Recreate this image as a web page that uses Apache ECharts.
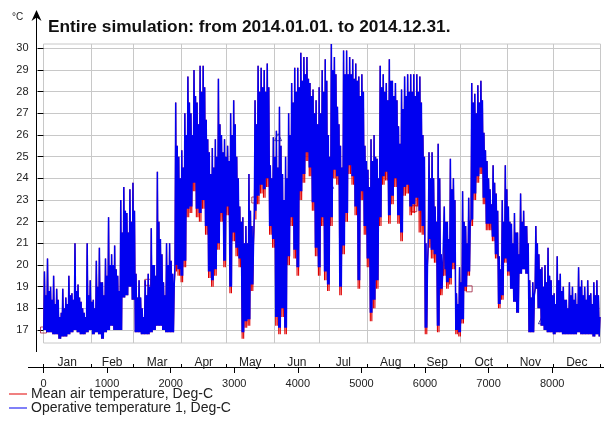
<!DOCTYPE html>
<html><head><meta charset="utf-8">
<script src="https://cdn.jsdelivr.net/npm/echarts@6/dist/echarts.min.js"></script>
<style>html,body{margin:0;padding:0;background:#fff}#c{width:604px;height:428px}</style>
</head><body><div id="c"></div>
<script>
// ---- data (2-day periods) ----
const titleText = 'Entire simulation: from 2014.01.01. to 2014.12.31.';
const unitText = '°C';
const monthNames = ['Jan','Feb','Mar','Apr','May','Jun','Jul','Aug','Sep','Oct','Nov','Dec'];
const monthEdges = [0,744,1416,2160,2880,3624,4344,5088,5832,6552,7296,8016,8760];
const hourTicks = [0,1000,2000,3000,4000,5000,6000,7000,8000];
const tempTicks = [17,18,19,20,21,22,23,24,25,26,27,28,29,30];
const seriesNames = ['Mean air temperature, Deg-C','Operative temperature 1, Deg-C'];
const periodHours = 48;

// Operative temperature: peak (spike) high of each 2-day period
const opHi = [
19.7,20.3,19.0,19.5,18.9,17.6,18.9,18.5,19.5,18.7,21.0,19.1,18.3,17.8,21.0,19.3,18.4,20.2,20.8,19.2,20.3,22.2,20.5,20.9,19.5,23.0,23.6,22.4,23.5,23.8,
19.6,19.3,18.0,19.3,19.6,21.7,20.0,24.3,21.2,19.2,21.0,21.0,19.6,27.5,25.0,25.3,27.0,28.7,27.0,29.0,27.5,29.2,29.2,26.7,25.2,25.4,25.8,28.6,26.0,25.8,25.5,
27.0,27.6,25.0,22.7,22.2,21.8,24.2,21.8,27.6,29.2,29.1,29.0,29.3,24.6,25.9,26.2,27.3,24.2,25.0,27.0,28.4,29.1,29.1,29.8,29.6,29.6,28.4,28.1,27.6,28.2,29.0,
29.5,26.0,30.2,29.6,27.3,25.5,29.9,29.9,29.6,29.5,29.3,28.7,28.8,25.5,24.4,25.8,26.0,24.9,29.2,28.8,28.4,29.5,28.5,28.4,26.4,28.1,28.7,28.8,28.8,28.8,28.8,
28.7,26.0,21.0,25.2,25.2,22.7,25.6,20.5,22.7,22.0,24.9,24.0,18.7,19.9,23.4,21.8,23.1,28.4,27.9,28.3,28.5,26.1,24.8,23.5,24.6,23.3,20.4,23.0,24.6,22.7,
21.9,22.4,21.5,23.3,22.5,21.8,19.3,19.2,21.8,20.5,19.9,20.0,20.8,19.3,18.7,20.4,19.6,19.0,18.4,19.2,19.0,18.7,19.9,19.3,19.0,19.3,18.7,19.2,19.3,17.6
];
// Operative temperature: typical (band top) high of the other day of each period
const opBand = [
18.6,18.8,18.4,18.2,18.4,17.8,18.0,18.2,18.6,18.4,18.8,18.5,18.0,17.6,18.6,18.3,18.0,19.0,19.2,18.6,19.5,20.0,20.0,19.8,18.8,21.5,22.5,21.5,22.0,22.5,
18.5,18.5,17.6,18.6,19.0,20.0,19.5,22.0,20.5,18.6,20.0,20.2,19.0,25.5,24.0,24.5,26.0,27.5,26.0,27.8,26.5,28.0,28.2,25.8,24.2,24.5,25.0,26.5,25.2,25.0,24.8,
26.0,26.5,24.0,22.0,21.0,21.0,22.5,21.0,26.5,28.0,28.2,28.0,28.2,24.0,25.0,24.5,25.5,23.0,24.0,26.0,27.5,28.0,28.2,28.5,28.8,28.6,27.8,27.0,26.5,27.0,28.0,
28.5,25.0,29.0,28.8,26.5,24.5,28.8,28.8,28.8,28.6,28.5,27.8,28.0,24.8,23.6,24.8,25.0,24.0,28.2,28.0,27.6,28.5,27.8,27.6,25.6,27.2,27.8,28.0,28.0,27.8,28.0,
27.5,25.0,20.0,24.0,24.0,22.0,24.0,19.8,22.0,21.2,23.5,23.0,18.2,19.2,22.0,21.0,22.0,27.5,27.0,27.5,27.6,25.3,24.0,22.8,23.8,22.5,19.8,22.0,23.5,22.0,
21.0,21.5,20.5,22.0,21.8,21.0,18.5,18.6,21.0,19.8,19.0,19.2,19.5,18.6,18.2,19.3,18.8,18.4,18.0,18.6,18.4,18.2,19.0,18.6,18.4,18.6,18.2,18.6,18.6,17.4
];
// Operative temperature: lows per 2-day period
const opLo = [
17.0,16.9,16.9,16.8,16.8,16.6,16.7,16.7,16.8,16.9,17.0,16.9,16.8,16.8,16.9,17.0,16.8,16.9,16.8,16.6,16.9,17.0,17.2,17.0,17.0,17.0,18.5,18.6,19.0,18.4,
16.9,16.9,16.8,16.8,16.8,16.9,17.0,17.2,17.2,17.0,16.9,16.9,16.9,20.0,19.8,19.5,20.2,22.6,22.7,23.8,22.6,22.4,23.0,21.8,19.7,19.3,19.8,21.0,22.4,20.2,22.7,
19.0,21.5,20.8,20.3,16.9,17.4,17.5,19.1,22.5,23.2,23.7,23.5,24.0,21.8,21.2,17.6,17.1,18.0,17.1,20.4,22.2,20.7,19.9,23.4,24.2,25.2,24.5,22.9,20.8,19.9,22.2,
19.7,19.1,22.2,24.4,24.1,19.0,20.9,22.4,24.6,24.1,22.7,19.3,23.4,21.8,20.3,17.8,18.4,19.3,22.2,24.1,24.3,22.3,23.2,24.0,22.3,21.5,23.6,23.7,22.7,22.8,23.1,
22.5,21.8,17.1,21.2,20.7,20.5,17.2,18.9,19.8,19.2,19.4,20.1,17.0,16.9,17.5,19.0,19.7,22.1,23.3,24.1,24.5,23.1,21.9,21.9,21.3,20.5,18.2,18.6,20.3,19.7,
18.9,18.3,17.8,19.6,19.8,19.6,16.9,16.9,18.9,18.0,17.2,17.0,16.9,16.9,16.8,16.9,16.9,16.8,16.8,16.8,16.8,16.8,16.9,16.8,16.8,16.8,16.8,16.7,16.8,16.7
];
// Mean air temperature: lows per 2-day period (its highs are hidden under the operative line)
const airLo = [
17.0,16.9,16.9,16.8,16.8,16.6,16.7,16.7,16.8,16.9,17.0,16.9,16.8,16.8,16.9,17.0,16.8,16.9,16.8,16.6,16.9,17.0,17.2,17.0,17.0,17.0,18.5,18.6,19.0,18.4,
16.9,16.9,16.8,16.8,16.8,16.9,17.0,17.2,17.2,17.0,16.9,16.9,16.9,19.7,19.5,19.2,19.9,22.2,22.4,23.4,22.2,22.0,22.6,21.4,19.4,19.0,19.5,20.7,22.0,19.9,22.3,
18.7,21.1,20.4,19.9,16.6,17.1,17.2,18.8,22.1,22.8,23.3,23.1,23.6,21.4,20.8,17.2,16.8,17.6,16.8,20.0,21.8,20.3,19.5,23.0,23.8,24.8,24.1,22.5,20.4,19.5,21.8,
19.3,18.8,21.8,24.0,23.7,18.6,20.5,22.0,24.2,23.7,22.3,18.9,23.0,21.4,19.9,17.4,18.0,18.9,21.8,23.7,23.9,21.9,22.8,23.6,21.9,21.1,23.2,23.3,22.3,22.4,22.7,
21.5,21.4,16.8,20.8,20.3,20.1,16.9,18.6,19.5,18.9,19.1,19.8,16.8,16.7,17.3,18.8,19.5,21.8,23.0,23.8,24.2,22.8,21.6,21.6,21.1,20.3,18.0,18.4,20.1,19.5,
18.9,18.3,17.8,19.6,19.8,19.6,16.9,16.9,18.9,18.0,17.2,17.0,16.9,16.9,16.8,16.9,16.9,16.8,16.8,16.8,16.8,16.8,16.9,16.8,16.8,16.8,16.8,16.7,16.8,16.7
];
// series markers [hour, value]
const airMarkers = [[0,17.0],[1640,19.2],[3323,23.0],[5824,22.6],[6694,18.9]];
const opMarkers = [[3690,25.9],[4507,23.7],[7838,17.45]];

// ---- build: each period = day 1 (low, peak high) + day 2 (low, band high) ----
function daily(lo, peak, band) {
  const d = [];
  for (let k = 0; k < lo.length; k++) {
    const t = k * periodHours;
    d.push([t + 4, lo[k]]);
    d.push([t + 15, peak[k]]);
    d.push([t + 28, lo[k]]);
    d.push([t + 39, band[k]]);
  }
  return d.filter(p => p[0] <= 8760);
}
const monthMid = monthNames.map((m, i) => (monthEdges[i] + monthEdges[i + 1]) / 2);
const FONT = "Arial, 'Liberation Sans', sans-serif";
const RED = '#e00000', BLUE = '#0000f0';

const chart = echarts.init(document.getElementById('c'), null, {renderer: 'canvas'});
chart.setOption({
  animation: false,
  backgroundColor: '#fff',
  title: {text: titleText, left: 48, top: 19, padding: 0,
    textStyle: {fontSize: 17.3, fontWeight: 'bold', color: '#111', fontFamily: FONT}},
  legend: {
    data: seriesNames, orient: 'vertical', left: 9, top: 387, itemGap: 0,
    itemWidth: 18, itemHeight: 1, icon: 'rect', padding: 0,
    textStyle: {fontSize: 14, color: '#222', fontFamily: FONT, lineHeight: 14, padding: [0,0,0,-1]}
  },
  grid: {left: 43.5, right: 3.5, top: 44, bottom: 85, show: true,
    borderColor: '#c8c8c8', borderWidth: 1, backgroundColor: 'transparent'},
  xAxis: [
    {type: 'value', min: 0, max: 8760, position: 'bottom', offset: 25,
      axisLine: {show: false},
      axisTick: {show: true, length: 5, customValues: hourTicks, lineStyle: {color: '#000'}},
      axisLabel: {customValues: hourTicks, fontSize: 11, color: '#222', margin: 10, fontFamily: FONT,
        formatter: v => hourTicks.indexOf(v) >= 0 ? String(v) : ''},
      splitLine: {show: false}},
    {type: 'value', min: 0, max: 8760, position: 'bottom', offset: 25,
      axisLine: {show: false},
      axisTick: {show: true, inside: true, length: 4, customValues: monthEdges, lineStyle: {color: '#000'}},
      axisLabel: {inside: true, customValues: monthMid, fontSize: 12, color: '#222', margin: -1, fontFamily: FONT,
        formatter: v => { const i = monthMid.indexOf(v); return i >= 0 ? monthNames[i] : ''; }},
      splitLine: {show: true, lineStyle: {color: '#c8c8c8', width: 1}}}
  ],
  yAxis: {type: 'value', min: 16.4, max: 30.2, offset: 7,
    axisLine: {show: false},
    axisTick: {show: true, length: 6, customValues: tempTicks, lineStyle: {color: '#000'}},
    axisLabel: {customValues: tempTicks, fontSize: 11, color: '#222', margin: 8, fontFamily: FONT,
      formatter: v => tempTicks.indexOf(v) >= 0 ? String(v) : ''},
    splitLine: {show: true, lineStyle: {color: '#c8c8c8', width: 1}}},
  series: [
    {name: seriesNames[0], type: 'line', xAxisIndex: 0, data: daily(airLo, opHi, opBand), showSymbol: false,
      color: RED, lineStyle: {width: 1.1, color: RED}},
    {name: seriesNames[1], type: 'line', xAxisIndex: 0, data: daily(opLo, opHi, opBand), showSymbol: false,
      color: BLUE, lineStyle: {width: 1.5, color: BLUE}},
    {name: 'airMk', type: 'scatter', xAxisIndex: 0, data: airMarkers, symbol: 'rect', symbolSize: 6,
      itemStyle: {color: 'rgba(0,0,0,0)', borderColor: '#a02040', borderWidth: 1}},
    {name: 'opMk', type: 'scatter', xAxisIndex: 0, data: opMarkers, symbol: 'triangle', symbolSize: 7,
      itemStyle: {color: 'rgba(0,0,0,0)', borderColor: '#202090', borderWidth: 1}}
  ],
  graphic: [
    {type: 'line', shape: {x1: 36.5, y1: 17, x2: 36.5, y2: 352}, style: {stroke: '#000', lineWidth: 1}},
    {type: 'polygon', shape: {points: [[36.5, 10], [31.5, 21], [36.5, 17.5], [41.5, 21]]}, style: {fill: '#000'}},
    {type: 'line', shape: {x1: 28, y1: 367.5, x2: 604, y2: 367.5}, style: {stroke: '#000', lineWidth: 1}},
    {type: 'text', left: 12, top: 12, style: {text: unitText, fontSize: 10, fill: '#222', fontFamily: FONT}}
  ]
});
</script>
</body></html>
